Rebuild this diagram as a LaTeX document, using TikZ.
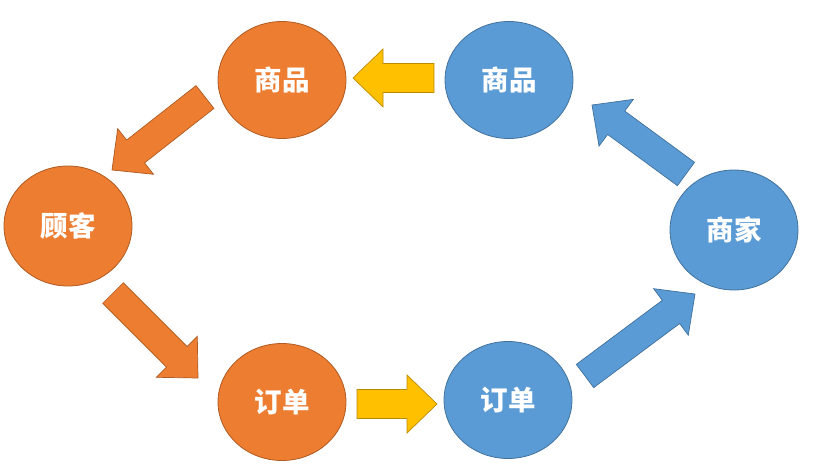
\documentclass[tikz,border=0pt]{standalone}
\usepackage{fontspec}
\newfontfamily\cjk{Noto Sans CJK SC}
\usetikzlibrary{shapes.geometric,calc}
\definecolor{orf}{HTML}{ED7D31}
\definecolor{ord}{HTML}{AE5A21}
\definecolor{blf}{HTML}{5B9BD5}
\definecolor{bld}{HTML}{41719C}
\definecolor{yef}{HTML}{FFC000}
\definecolor{yed}{HTML}{BC8C00}
\newcommand{\arrsw}{14.5pt}
\newcommand{\arrhw}{29pt}
\newcommand{\arrhl}{30pt}
\newcommand{\blockarrow}[3]{%
  \coordinate (#2-base) at ($(#3)!\arrhl!(#2)$);
  \filldraw[#1] ($(#2)!\arrsw!90:(#3)$) -- ($(#2-base)!\arrsw!90:(#3)$)
    -- ($(#2-base)!\arrhw!90:(#3)$) -- (#3)
    -- ($(#2-base)!\arrhw!-90:(#3)$) -- ($(#2-base)!\arrsw!-90:(#3)$)
    -- ($(#2)!\arrsw!-90:(#3)$) -- cycle;}
\tikzset{
  bubble/.style={ellipse, minimum width=128pt, minimum height=117pt, inner sep=0pt,
    line width=0.8pt, text=white, font=\cjk\bfseries\fontsize{27.5}{27.5}\selectfont},
  orbubble/.style={bubble, fill=orf, draw=ord},
  blbubble/.style={bubble, fill=blf, draw=bld},
  orarrow/.style={fill=orf, draw=ord, line width=0.7pt, line join=miter},
  blarrow/.style={fill=blf, draw=bld, line width=0.7pt, line join=miter},
  yearrow/.style={fill=yef, draw=yed, line width=0.7pt, line join=miter}
}
\begin{document}
\begin{tikzpicture}[x=1pt,y=-1pt]
\useasboundingbox (0,0) rectangle (818,473);
\node[orbubble] (sp1) at (282,80) {商品};
\node[blbubble] (sp2) at (509,80) {商品};
\node[orbubble, minimum height=120pt] (gk) at (68,226) {顾客};
\node[blbubble, minimum height=120pt] (sj) at (734,230) {商家};
\node[orbubble] (dd1) at (282,402) {订单};
\node[blbubble] (dd2) at (508,400) {订单};
% arrow end points
\coordinate (a1t) at (434,78);  \coordinate (a1h) at (353,78);
\coordinate (a2t) at (205,97);  \coordinate (a2h) at (112,170);
\coordinate (a3t) at (113,293); \coordinate (a3h) at (198,378);
\coordinate (a4t) at (357,404); \coordinate (a4h) at (437,404);
\coordinate (a5t) at (585,376); \coordinate (a5h) at (695,294);
\coordinate (a6t) at (686,174); \coordinate (a6h) at (592,105);
\blockarrow{yearrow}{a1t}{a1h}
\blockarrow{orarrow}{a2t}{a2h}
\blockarrow{orarrow}{a3t}{a3h}
\blockarrow{yearrow}{a4t}{a4h}
\blockarrow{blarrow}{a5t}{a5h}
\blockarrow{blarrow}{a6t}{a6h}
\end{tikzpicture}
\end{document}
